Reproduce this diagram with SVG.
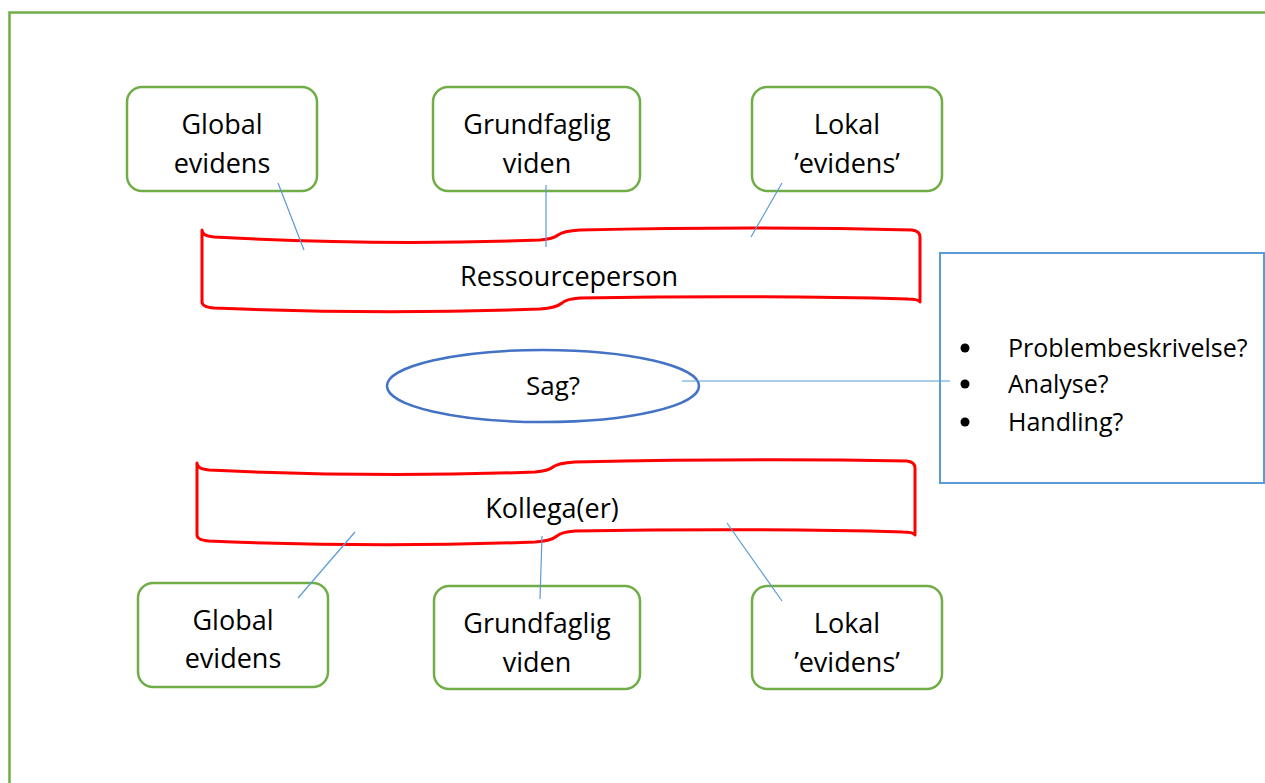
<svg xmlns="http://www.w3.org/2000/svg" width="1265" height="783" viewBox="0 0 1265 783">
<style>
text{font-family:"Open Sans","Liberation Sans",sans-serif;fill:#000;text-anchor:middle}
.lbl{font-size:27px}
.box{fill:#fff;stroke:#70AD47;stroke-width:2.5}
.rib{fill:#fff;stroke:#FF0000;stroke-width:3;stroke-linejoin:round}
.con{stroke:#5B9BD5;stroke-width:1.2;fill:none}
.bul{font-size:25px;text-anchor:start}
</style>
<rect width="1265" height="783" fill="#fff"/>
<path d="M9.5,790 L9.5,12.5 L1270,12.5" fill="none" stroke="#70AD47" stroke-width="2.5"/>

<g id="ressourceperson">
<path class="rib" d="M202,230 Q202,236 214,237 Q380,246 540,240 Q553,239 558,235 Q563,231 580,230 Q760,226 912,230 Q920,231 920,237 L920,302 Q918,299 908,299 Q760,295 580,298 Q566,299 562,303 Q556,308 540,309 Q380,315 214,308 Q202,307 202,302 Z"/>
<text class="lbl" x="569" y="286">Ressourceperson</text>
</g>

<g id="kollega">
<path class="rib" d="M197,463 Q197,469 209,470 Q375,478 535,472 Q548,471 553,467 Q558,463 575,462 Q755,458 907,461 Q915,462 915,468 L915,535 Q913,532 903,532 Q755,528 575,531 Q561,532 557,536 Q551,541 535,542 Q375,548 209,541 Q197,540 197,535 Z"/>
<text class="lbl" x="552" y="518">Kollega(er)</text>
</g>

<g id="box-global-top">
<rect class="box" x="127" y="87" width="190" height="104" rx="15"/>
<text class="lbl" x="222" y="134">Global</text>
<text class="lbl" x="222" y="173">evidens</text>
</g>
<g id="box-grundfaglig-top">
<rect class="box" x="433" y="87" width="207" height="104" rx="15"/>
<text class="lbl" x="537" y="134">Grundfaglig</text>
<text class="lbl" x="537" y="173">viden</text>
</g>
<g id="box-lokal-top">
<rect class="box" x="752" y="87" width="190" height="104" rx="15"/>
<text class="lbl" x="847" y="134">Lokal</text>
<text class="lbl" x="847" y="173">’evidens’</text>
</g>

<g id="sag">
<ellipse cx="543" cy="386" rx="156" ry="36" fill="#fff" stroke="#4472C4" stroke-width="2.5"/>
<text x="553" y="395" style="font-size:26px">Sag?</text>
</g>

<g id="info-box">
<rect x="940" y="253" width="324" height="230" fill="#fff" stroke="#5B9BD5" stroke-width="2"/>
<circle cx="965" cy="348" r="4.5" fill="#000"/>
<circle cx="965" cy="384" r="4.5" fill="#000"/>
<circle cx="965" cy="422" r="4.5" fill="#000"/>
<text class="bul" x="1008" y="357">Problembeskrivelse?</text>
<text class="bul" x="1008" y="393">Analyse?</text>
<text class="bul" x="1008" y="431">Handling?</text>
</g>

<g id="box-global-bottom">
<rect class="box" x="138" y="583" width="190" height="104" rx="15"/>
<text class="lbl" x="233" y="630">Global</text>
<text class="lbl" x="233" y="668">evidens</text>
</g>
<g id="box-grundfaglig-bottom">
<rect class="box" x="434" y="586" width="206" height="103" rx="15"/>
<text class="lbl" x="537" y="633">Grundfaglig</text>
<text class="lbl" x="537" y="672">viden</text>
</g>
<g id="box-lokal-bottom">
<rect class="box" x="752" y="586" width="190" height="103" rx="15"/>
<text class="lbl" x="847" y="633">Lokal</text>
<text class="lbl" x="847" y="672">’evidens’</text>
</g>

<g id="connectors">
<line class="con" x1="278" y1="183" x2="304" y2="250"/>
<line class="con" x1="546" y1="185" x2="546" y2="247"/>
<line class="con" x1="782" y1="183" x2="751" y2="237"/>
<line class="con" x1="355" y1="532" x2="298" y2="598"/>
<line class="con" x1="542" y1="536" x2="540" y2="599"/>
<line class="con" x1="727" y1="523" x2="782" y2="601"/>
<line class="con" x1="682" y1="381" x2="950" y2="381"/>
</g>
</svg>
